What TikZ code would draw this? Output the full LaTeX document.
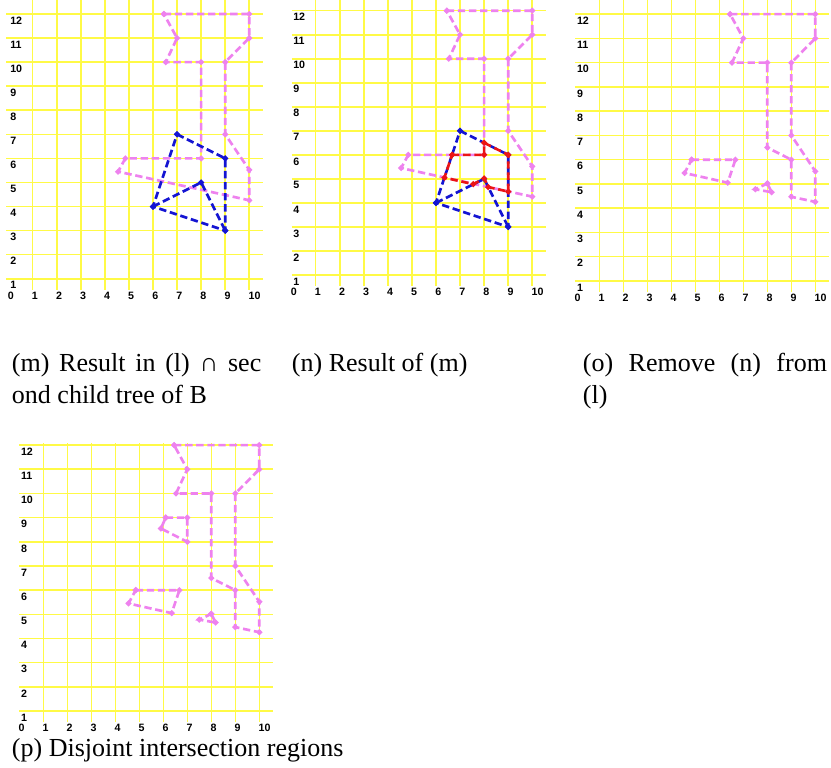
\documentclass[tikz,border=0pt]{standalone}
\usepackage{amsmath, amssymb}
\usepackage{fontspec}
\setmainfont{Liberation Serif}
\newfontfamily\axisfont{Liberation Sans}
\usepackage{tikz}

\begin{document}
\begin{tikzpicture}[x=0.75pt,y=0.75pt,yscale=-1,xscale=1,
  gridline/.style={color={rgb, 255:red, 255; green, 250; blue, 70}, line width=1.2pt},
  ynum/.style={anchor=west, inner sep=0pt, font=\axisfont\bfseries\fontsize{8}{9}\selectfont},
  xnum/.style={ynum},
  pinkpoly/.style={color={rgb, 255:red, 238; green, 130; blue, 238}, line width=2pt, dash pattern=on 5.5pt off 2.8pt},
  bluepoly/.style={pinkpoly, color={rgb, 255:red, 20; green, 20; blue, 210}},
  redpoly/.style={pinkpoly, color={rgb, 255:red, 235; green, 20; blue, 20}},
  caption/.style={anchor=base west, inner sep=0pt, font=\fontsize{19.5}{24}\selectfont}
]
\useasboundingbox (0,0) rectangle (831,767);

%Panel (m)
\begin{scope}[shift={(8.6,302.8)}, x=18.05pt, y=-18.05pt]
\foreach \v in {1,...,12} \draw[gridline] (-0.1,\v) -- (10.55,\v);
\foreach \u in {1,...,10} \draw[gridline] (\u,0.55) -- (\u,12.58);
\foreach \v in {1,...,12} \node[ynum] (my\v) at (0.06,\v-0.27) {\v};
\foreach \u in {0,...,10} \node[xnum] (mx\u) at (\u-0.04,0.3) {\u};
%Pink outline
\draw[pinkpoly] plot[mark=*, mark size=1pt, mark options={solid}] coordinates {(6.45,12) (10,12) (10,11) (9,10) (9,7) (10,5.52) (10,4.26) (4.55,5.45) (4.85,6) (8,6) (8,10) (6.53,10) (7,11) (6.45,12)};
%Blue child tree
\draw[bluepoly] plot[mark=*, mark size=1pt, mark options={solid}] coordinates {(7,7) (9,6) (9,3) (6,4) (7,7)};
\draw[bluepoly] plot[mark=*, mark size=1pt, mark options={solid}] coordinates {(6,4) (8,5) (9,3)};
\end{scope}

%Panel (n)
\begin{scope}[shift={(291.6,299.0)}, x=18.05pt, y=-18.02pt]
\foreach \v in {1,...,12} \draw[gridline] (0,\v) -- (10.55,\v);
\foreach \u in {1,...,10} \draw[gridline] (\u,0.55) -- (\u,12.44);
\foreach \v in {1,...,12} \node[ynum] (ny\v) at (0.06,\v-0.27) {\v};
\foreach \u in {0,...,10} \node[xnum] (nx\u) at (\u-0.04,0.3) {\u};
%Pink outline
\draw[pinkpoly] plot[mark=*, mark size=1pt, mark options={solid}] coordinates {(6.45,12) (10,12) (10,11) (9,10) (9,7) (10,5.52) (10,4.26) (4.55,5.45) (4.85,6) (8,6) (8,10) (6.53,10) (7,11) (6.45,12)};
%Blue child tree
\draw[bluepoly] plot[mark=*, mark size=1pt, mark options={solid}] coordinates {(7,7) (9,6) (9,3) (6,4) (7,7)};
\draw[bluepoly] plot[mark=*, mark size=1pt, mark options={solid}] coordinates {(6,4) (8,5) (9,3)};
%Red result
\draw[redpoly] plot[mark=*, mark size=1pt, mark options={solid}] coordinates {(6.67,6) (8,6) (8,6.5) (9,6) (9,4.47) (8.17,4.66) (8,5.02) (7.55,4.78) (6.35,5.05) (6.67,6)};
\end{scope}

%Panel (o)
\begin{scope}[shift={(575.3,305.2)}, x=18pt, y=-18.19pt]
\foreach \v in {1,...,12} \draw[gridline] (0,\v) -- (10.55,\v);
\foreach \u in {1,...,10} \draw[gridline] (\u,0.55) -- (\u,12.58);
\foreach \v in {1,...,12} \node[ynum] (oy\v) at (0.06,\v-0.27) {\v};
\foreach \u in {0,...,10} \node[xnum] (ox\u) at (\u-0.04,0.3) {\u};
\draw[pinkpoly] plot[mark=*, mark size=1pt, mark options={solid}] coordinates {(6.45,12) (10,12) (10,11) (9,10) (9,7) (10,5.52) (10,4.26) (9,4.47) (9,6) (8,6.5) (8,10) (6.53,10) (7,11) (6.45,12)};
\draw[pinkpoly] plot[mark=*, mark size=1pt, mark options={solid}] coordinates {(4.85,6) (6.67,6) (6.35,5.05) (4.55,5.45) (4.85,6)};
\draw[pinkpoly] plot[mark=*, mark size=1pt, mark options={solid}] coordinates {(8,5.02) (8.18,4.66) (7.5,4.78) (8,5.02)};
\end{scope}

%Panel (p)
\begin{scope}[shift={(19.3,735.2)}, x=18pt, y=-18.13pt]
\foreach \v in {1,...,12} \draw[gridline] (0,\v) -- (10.55,\v);
\foreach \u in {1,...,10} \draw[gridline] (\u,0.55) -- (\u,12.08);
\foreach \v in {1,...,12} \node[ynum] (py\v) at (0.06,\v-0.27) {\v};
\foreach \u in {0,...,10} \node[xnum] (px\u) at (\u-0.04,0.3) {\u};
\draw[pinkpoly] plot[mark=*, mark size=1pt, mark options={solid}] coordinates {(6.45,12) (10,12) (10,11) (9,10) (9,7) (10,5.52) (10,4.26) (9,4.47) (9,6) (8,6.5) (8,10) (6.53,10) (7,11) (6.45,12)};
\draw[pinkpoly] plot[mark=*, mark size=1pt, mark options={solid}] coordinates {(6.1,9) (7,9) (7,8) (5.9,8.55) (6.1,9)};
\draw[pinkpoly] plot[mark=*, mark size=1pt, mark options={solid}] coordinates {(4.85,6) (6.67,6) (6.35,5.05) (4.55,5.45) (4.85,6)};
\draw[pinkpoly] plot[mark=*, mark size=1pt, mark options={solid}] coordinates {(8,5.02) (8.18,4.66) (7.5,4.78) (8,5.02)};
\end{scope}

% Captions
\node[caption] (capm1) at (11.7,371) {\makebox[187pt][s]{(m) Result in (l) ∩ sec}};
\node[caption] (capm2) at (11.7,403) {ond child tree of B};
\node[caption] (capn) at (291.7,371) {(n) Result of (m)};
\node[caption] (capo1) at (582.7,371) {\makebox[183pt][s]{(o) Remove (n) from}};
\node[caption] (capo2) at (582.7,403) {(l)};
\node[caption] (capp) at (11.7,756) {(p) Disjoint intersection regions};
\end{tikzpicture}
\end{document}
